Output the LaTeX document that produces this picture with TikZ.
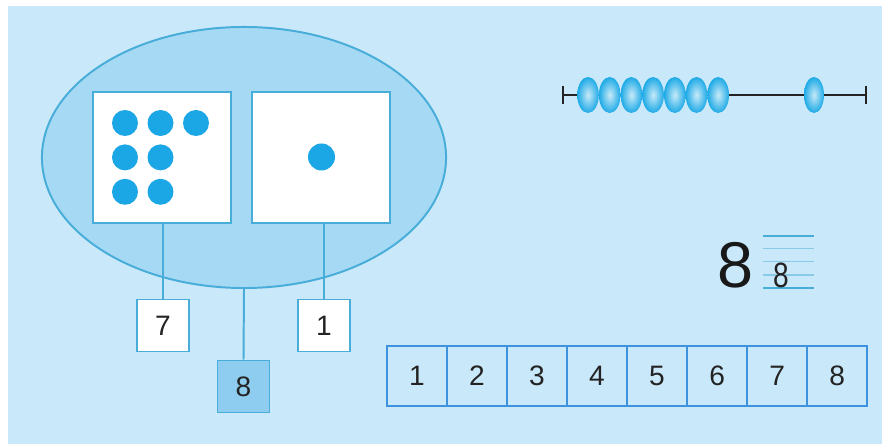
\documentclass[tikz,border=0pt]{standalone}
\usepackage{fontspec}
\setmainfont{Liberation Sans}
\usepackage{xcolor}
\usetikzlibrary{arrows}
\usetikzlibrary{shapes.geometric}
\usetikzlibrary{positioning, math}
\definecolor{mybg}{RGB}{201,233,250}
\definecolor{myfill}{RGB}{166,218,244}
\definecolor{myline}{RGB}{72,173,216}
\definecolor{mydot}{RGB}{27,166,230}
\definecolor{mybead}{RGB}{30,170,230}
\definecolor{mydark}{RGB}{142,205,239}
\definecolor{mytext}{RGB}{35,35,35}

\tikzset{
  cardbox/.style={draw=myline, line width=1.4pt, fill=white, minimum width=3.45cm, minimum height=3.275cm, inner sep=0pt},
  numbox/.style={draw=myline, line width=1.4pt, fill=white, minimum size=1.3cm, inner sep=0pt, font=\fontsize{20}{24}\selectfont, text=mytext},
  cellbox/.style={draw=myline!85!blue, line width=1.3pt, fill=mybg, minimum size=1.5cm, inner sep=0pt, outer sep=0pt, font=\fontsize{20}{24}\selectfont, text=mytext},
  link/.style={draw=myline, line width=1.4pt},
  bead/.style={inner color=mybead!25!white, outer color=mybead},
}

\begin{document}
\begin{tikzpicture}[x=0.025cm, y=-0.025cm]
\tikzmath{
\dx=21.7;
}
\useasboundingbox (0,0) rectangle (882,444);
\fill[white] (0,0) rectangle (882,444);
\fill[mybg] (8,6) rectangle (882,444);

\node[ellipse, draw=myline, line width=1.4pt, fill=myfill, minimum width=10.1cm, minimum height=6.525cm, inner sep=0pt] (pair) at (244,157.5) {};
\node[cardbox] (sqL) at (162,157.5) {};
\node[cardbox] (sqR) at (321,157.5) {};

% dots
\foreach \c/\r in {0/0,1/0,2/0,0/1,1/1,0/2,1/2}{
\fill[mydot] (125+35.5*\c, 123+34.4*\r) circle (13);
}
\fill[mydot] (321.5,157) circle (13.5);

\node[numbox] (n7) at (163,325.5) {7};
\node[numbox] (n1) at (324,325.5) {1};
\node[numbox, fill=mydark] (n8) at (243.5,386.5) {8};

\draw[link] (n7.north) -- (n7.north |- sqL.south);
\draw[link] (n1.north) -- (n1.north |- sqR.south);
\draw[link] (pair.south) -- (n8.north);

% number strip
\node[cellbox] (c1) at (417,376) {1};
\foreach \i [count=\j from 1] in {2,...,8}{
\node[cellbox, right=0pt of c\j] (c\i) {\i};
}

% abacus
\coordinate (rodL) at (563,95);
\coordinate (rodR) at (866,95);
\draw[line width=1.4pt, mytext] (rodL) -- (rodR);
\draw[line width=1.4pt, mytext] (rodL) ++(0,-9) -- ++(0,18);
\draw[line width=1.4pt, mytext] (rodR) ++(0,-9) -- ++(0,18);
\foreach \k in {0,...,6}{
\shade[bead] (588+\dx*\k,95) ellipse (10.8 and 18);
}
\shade[bead] (814,95) ellipse (10 and 18);

% numeral
\node[font=\fontsize{46}{50}\selectfont, text=black!90] (big) at (735,265) {8};
\foreach \yy/\op in {236/1,248.5/0.5,261.5/0.5,275/0.5,288/1}{
\draw[myline, line width=1pt, opacity=\op] (763,\yy) -- (814,\yy);
}
\node[font=\fontsize{25}{30}\selectfont, text=mytext] (small) at (781,275.5) {\scalebox{0.8}[1]{8}};
\end{tikzpicture}
\end{document}
